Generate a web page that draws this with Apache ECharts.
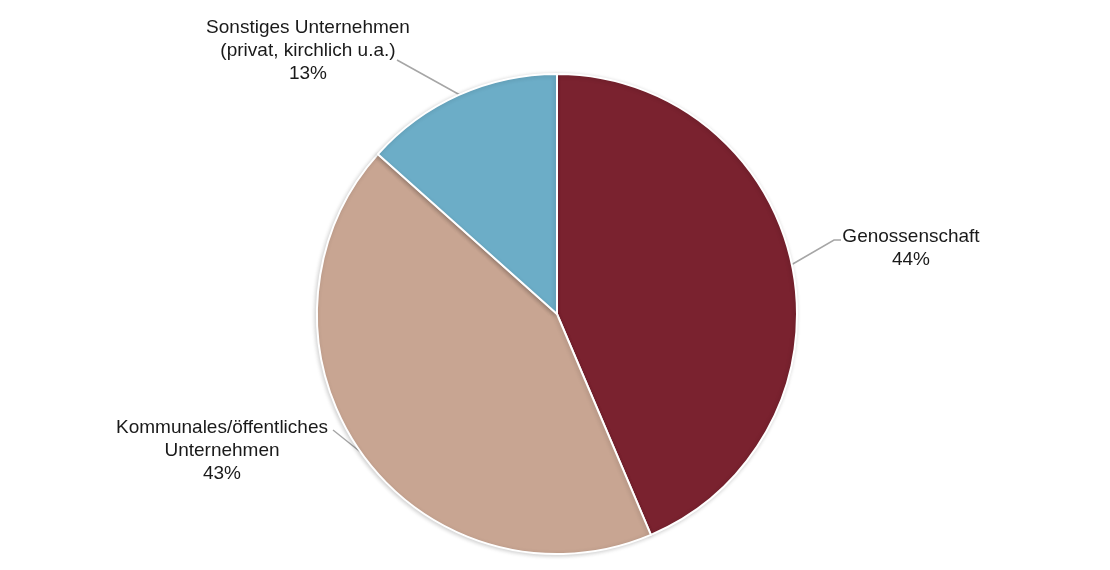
<!DOCTYPE html>
<html>
<head>
<meta charset="utf-8">
<script src="https://cdn.jsdelivr.net/npm/echarts@6/dist/echarts.min.js"></script>
<style>
  html, body { margin: 0; padding: 0; background: #fff; }
  #chart { width: 1110px; height: 570px; }
</style>
</head>
<body>
<div id="chart"></div>
<script>
const categories = ['Genossenschaft', 'Kommunales/öffentliches\nUnternehmen', 'Sonstiges Unternehmen\n(privat, kirchlich u.a.)']
const shares = [43.6, 43.0, 13.4]
const colors = ['#7a222f', '#c8a592', '#6cadc7']

// where each label sits (centre of text block) and its leader line
const labelPos = [
  [911, 248],
  [222, 451],
  [308, 51],
]
const leaderLines = [
  [[791, 265], [834, 240], [841, 240]],
  [[363, 454], [333, 430], [333, 430]],
  [[460, 95], [397, 60], [397, 60]],
]

const chart = echarts.init(document.getElementById('chart'))
chart.setOption({
  backgroundColor: '#fff',
  animation: false,
  series: [
    {
      type: 'pie',
      center: [557, 314],
      radius: 240,
      startAngle: 90,
      clockwise: true,
      data: categories.map((name, i) => ({ name, value: shares[i], itemStyle: { color: colors[i] } })),
      itemStyle: {
        borderColor: '#fff',
        borderWidth: 2,
        shadowBlur: 4,
        shadowColor: 'rgba(0,0,0,0.18)',
        shadowOffsetX: -1,
        shadowOffsetY: 1,
      },
      label: {
        show: true,
        position: 'outside',
        formatter: p => `${p.name}\n${Math.round(p.percent)}%`,
        fontFamily: 'Liberation Sans, Arial, sans-serif',
        fontSize: 19,
        lineHeight: 23,
        color: '#1a1a1a',
        align: 'center',
      },
      labelLine: {
        show: true,
        lineStyle: { color: '#a6a6a6', width: 1.5 },
      },
      labelLayout: p => ({
        x: labelPos[p.dataIndex][0],
        y: labelPos[p.dataIndex][1],
        align: 'center',
        verticalAlign: 'middle',
        labelLinePoints: leaderLines[p.dataIndex],
      }),
      emphasis: { disabled: true },
    },
  ],
})
window.addEventListener('resize', () => chart.resize())
</script>
</body>
</html>
